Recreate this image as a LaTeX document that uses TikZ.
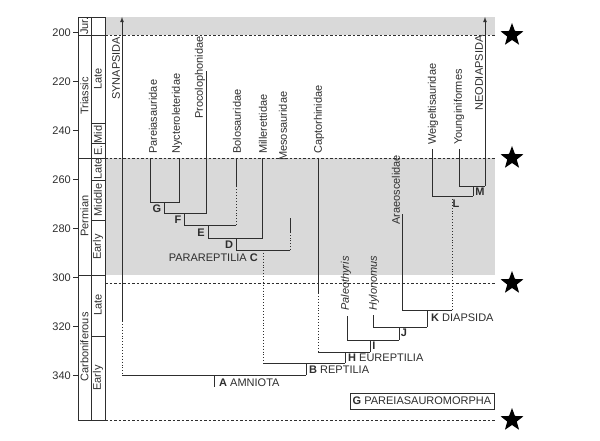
\documentclass[tikz,border=0pt]{standalone}
\usepackage{fontspec}
\setmainfont{Liberation Sans}
\usetikzlibrary{shapes.geometric}
\definecolor{ink}{HTML}{2E2E2E}
\definecolor{band}{HTML}{D9D9D9}
\begin{document}
\begin{tikzpicture}[x=1pt,y=-1pt,
  br/.style={draw=ink,line width=0.8pt},
  dt/.style={draw=ink,line width=0.9pt,dotted},
  dl/.style={draw=ink,line width=0.6pt,dash pattern=on 2.5pt off 2pt},
  tx/.style={font=\fontsize{11}{12}\selectfont,text=ink,inner sep=1pt},
  vt/.style={tx,rotate=90,anchor=west},
  lb/.style={tx,font=\fontsize{11}{12}\selectfont\bfseries},
  st/.style={star,star points=5,star point ratio=2.4,fill=black,minimum size=24pt,inner sep=0pt},
  cell/.style={draw=ink,line width=0.6pt}]
\useasboundingbox (0,0) rectangle (600,441);
% bands
\fill[band] (105,17) rectangle (495,35);
\fill[band] (105,158) rectangle (495,275);
% dashed lines and stars
\foreach \y/\n in {35/s1,158/s2,283/s3,420/s4}{
  \draw[dl] (105,\y) -- (495,\y);
  \node[st] (\n) at (512,\y) {};
}
% timescale
\draw[cell] (78,17) rectangle (105,420);
\draw[cell] (91,17) -- (91,420);
\foreach \y in {35,158,275}{\draw[cell] (78,\y) -- (105,\y);}
\foreach \y in {123,143,180,220,336}{\draw[cell] (91,\y) -- (105,\y);}
\node[tx,rotate=90] (p1) at (84.5,26) {Jur.};
\node[tx,rotate=90] (p2) at (84.5,96) {Triassic};
\node[tx,rotate=90] (p3) at (84.5,216) {Permian};
\node[tx,rotate=90] (p4) at (84.5,347) {Carboniferous};
\node[tx,rotate=90] (e1) at (98,79) {Late};
\node[tx,rotate=90] (e2) at (98,133) {Mid.};
\node[tx,rotate=90] (e3) at (98,150.5) {E.};
\node[tx,rotate=90] (e4) at (98,169) {Late};
\node[tx,rotate=90] (e5) at (98,200) {Middle};
\node[tx,rotate=90] (e6) at (98,247) {Early};
\node[tx,rotate=90] (e7) at (98,305) {Late};
\node[tx,rotate=90] (e8) at (98,378) {Early};
\foreach \t in {200,220,...,340}{
  \pgfmathsetmacro\yy{32.5+(\t-200)*2.45}
  \draw[cell] (73,\yy) -- (78,\yy);
  \node[tx,anchor=east,font=\fontsize{11}{12}\selectfont] at (72,\yy) {\t};
}
% synapsida
\draw[br,-latex] (122,321) -- (122,17);
\draw[dt] (122,321) -- (122,375);
\node[vt] (syn) at (116,101) {SYNAPSIDA};
% A, B
\draw[br] (122,375) -- (306,375);
\draw[br] (214,375) -- (214,387);
\node[tx,anchor=west] (a) at (218,383) {\textbf{A} AMNIOTA};
\draw[br] (306,375) -- (306,363);
\draw[br] (263,363) -- (345,363);
\node[tx,anchor=west] (b) at (308,370) {\textbf{B} REPTILIA};
% parareptiles
\draw[br] (150.5,158) -- (150.5,202) -- (179,202) -- (179,158);
\node[vt] at (153,155) {Pareiasauridae};
\node[vt] at (177,155) {Nycteroleteridae};
\draw[br] (164,202) -- (164,213) -- (206,213) -- (206,71);
\node[vt] at (200,120) {Procolophonidae};
\node[lb] at (157,209) {G};
\draw[br] (184,213) -- (184,225) -- (236,225);
\draw[dt] (236,225) -- (236,186);
\draw[br] (236,186) -- (236,158);
\node[vt] at (237,155) {Bolosauridae};
\node[lb] at (178,220) {F};
\draw[br] (208,225) -- (208,238) -- (262,238) -- (262,158);
\node[vt] at (263,155) {Millerettidae};
\node[lb] at (201,233) {E};
\draw[br] (236,238) -- (236,250) -- (290,250);
\draw[dt] (290,250) -- (290,233);
\draw[br] (290,233) -- (290,218);
\node[vt] at (283,162) {Mesosauridae};
\node[lb] at (229,245) {D};
\draw[dt] (263,250) -- (263,363);
\node[tx,anchor=east] (c) at (259,258) {PARAREPTILIA \textbf{C}};
% eureptiles
\draw[br] (318,158) -- (318,293);
\draw[dt] (318,293) -- (318,352);
\node[vt] at (319,155) {Captorhinidae};
\draw[br] (318,352) -- (370,352);
\draw[br] (345,352) -- (345,363);
\node[tx,anchor=west] (h) at (347,358) {\textbf{H} EUREPTILIA};
\draw[br] (370,352) -- (370,340);
\draw[br] (347,316) -- (347,340) -- (399,340);
\node[vt] at (346,312) {\itshape Paleothyris};
\node[lb] at (374,346) {I};
\draw[br] (399,340) -- (399,327);
\draw[br] (373,315) -- (373,327) -- (427,327);
\node[vt] at (374,312) {\itshape Hylonomus};
\node[lb] at (404,333) {J};
\draw[br] (427,327) -- (427,310);
\draw[br] (402,214) -- (402,310) -- (452,310);
\node[vt] at (396,226) {Araeoscelidae};
\node[tx,anchor=west] (k) at (430,318) {\textbf{K} DIAPSIDA};
\draw[dt] (452,310) -- (452,196);
\draw[br] (432,149) -- (432,196) -- (473,196);
\node[vt] at (433,146) {Weigeltisauridae};
\node[lb] at (456,204) {L};
\draw[br] (473,196) -- (473,186);
\draw[br] (459,149) -- (459,186) -- (485,186);
\draw[br,-latex] (485,186) -- (485,17);
\node[vt] at (459,146) {Younginiformes};
\node[vt] at (479,112) {NEODIAPSIDA};
\node[lb] at (480,192) {M};
% legend box
\node[tx,draw=ink,line width=0.6pt,minimum width=144pt,minimum height=16pt] (leg) at (422,401) {\textbf{G} PAREIASAUROMORPHA};
\end{tikzpicture}
\end{document}
